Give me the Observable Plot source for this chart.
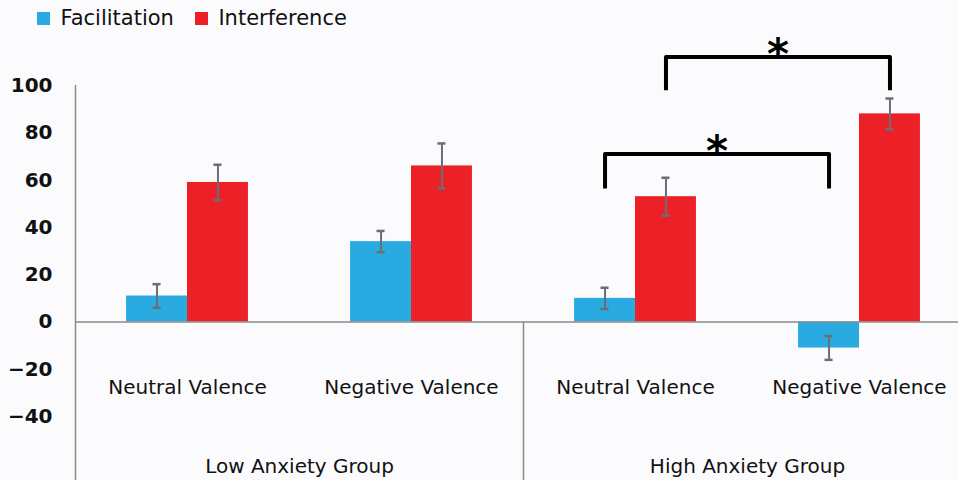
<!DOCTYPE html>
<html>
<head>
<meta charset="utf-8">
<script src="https://cdn.jsdelivr.net/npm/d3@7"></script>
<script src="https://cdn.jsdelivr.net/npm/@observablehq/plot@0.6"></script>
<style>
  html, body { margin: 0; padding: 0; background: #fbfbfd; }
  #chart { width: 958px; height: 480px; overflow: hidden; position: relative; }
  #legend { height: 36px; padding-left: 37px; box-sizing: border-box; display: flex; align-items: center; overflow: hidden; }
  #legend * { font-family: "DejaVu Sans", sans-serif !important; font-size: 21px !important; color: #111; }
  #legend > div { margin: 0 !important; min-height: 0 !important; }
  #plot svg { display: block; }
</style>
</head>
<body>
<div id="chart">
  <div id="legend"></div>
  <div id="plot"></div>
</div>
<script>
// ---- data ----
const series = ["Facilitation", "Interference"];
const seriesColors = ["#29abe2", "#ec2027"];
const groups = ["Low Anxiety Group", "High Anxiety Group"];
const valences = ["Neutral Valence", "Negative Valence"];
const facilitation = [11, 34, 10, -11];
const facilitationErr = [5, 4.5, 4.5, 5];
const interference = [59, 66, 53, 88];
const interferenceErr = [7.5, 9.5, 8, 6.5];
const yTicks = [100, 80, 60, 40, 20, 0, -20, -40];
// significance brackets: compared categories (index), series, bracket top and leg ends
const brackets = [
  {from: 2, to: 3, series: "Interference", top: 112, leg: 98, label: "*"},
  {from: 2, to: 3, series: "Facilitation", top: 71, leg: 56.5, label: "*"}
];

// ---- layout constants ----
const BAR = 0.272;        // bar width in category units
const CAP = 0.018;        // half width of error caps
const yMin = -67, yMax = 100;
const off = s => s === "Facilitation" ? -BAR / 2 : BAR / 2;

const rows = [];
for (let c = 0; c < 4; c++) {
  rows.push({c, series: "Facilitation", value: facilitation[c], err: facilitationErr[c]});
  rows.push({c, series: "Interference", value: interference[c], err: interferenceErr[c]});
}
const pos = d => d.c + off(d.series);
const categories = d3.range(4);

const bracketPts = brackets.flatMap((b, k) => {
  const x1 = b.from + off(b.series), x2 = b.to + off(b.series);
  return [
    {k, x: x1, y: b.leg}, {k, x: x1, y: b.top},
    {k, x: x2, y: b.top}, {k, x: x2, y: b.leg}
  ];
});

const axisGray = "#8a8a8a";
const errGray = "#6d6e71";

const plot = Plot.plot({
  width: 958,
  height: 444,
  marginTop: 49,
  marginBottom: 0,
  marginLeft: 75,
  marginRight: 0,
  style: {background: "transparent", fontFamily: "DejaVu Sans, sans-serif", fontSize: "20px", overflow: "visible"},
  x: {domain: [-0.5, 3.5], range: [75, 971], axis: null},
  y: {domain: [yMin, yMax]},
  color: {domain: series, range: seriesColors},
  marks: [
    Plot.ruleX([-0.5], {stroke: axisGray, strokeWidth: 1.5}),
    Plot.ruleX([1.5], {y1: 0, y2: yMin, stroke: axisGray, strokeWidth: 1.5}),
    Plot.rect(rows, {
      x1: d => d.c + (d.series === "Facilitation" ? -BAR : 0),
      x2: d => d.c + (d.series === "Facilitation" ? 0 : BAR),
      y1: 0, y2: "value", fill: "series"
    }),
    Plot.ruleY([0], {stroke: axisGray, strokeWidth: 1.5}),
    Plot.ruleX(rows, {x: pos, y1: d => d.value - d.err, y2: d => d.value + d.err, stroke: errGray, strokeWidth: 2}),
    Plot.ruleY(rows, {y: d => d.value + d.err, x1: d => pos(d) - CAP, x2: d => pos(d) + CAP, stroke: errGray, strokeWidth: 2.5}),
    Plot.ruleY(rows, {y: d => d.value - d.err, x1: d => pos(d) - CAP, x2: d => pos(d) + CAP, stroke: errGray, strokeWidth: 2.5}),
    Plot.axisY({ticks: yTicks, tickSize: 0, tickPadding: 23, fontWeight: "bold", fontSize: 20, color: "#111", label: null}),
    Plot.text(categories, {x: c => c, text: c => valences[c % 2], frameAnchor: "bottom", dy: -87, fontSize: 20, fill: "#111"}),
    Plot.text(groups, {x: (d, i) => 2 * i + 0.5, text: d => d, frameAnchor: "bottom", dy: -8, fontSize: 20, fill: "#111"}),
    Plot.line(bracketPts, {x: "x", y: "y", z: "k", stroke: "#000", strokeWidth: 4, strokeLinejoin: "round", strokeLinecap: "butt"}),
    Plot.text(brackets, {x: b => (b.from + b.to) / 2 + off(b.series), y: "top", text: "label", fontSize: 42, fontWeight: "bold", fill: "#000", dy: -2})
  ]
});
document.getElementById("plot").appendChild(plot);

const legend = Plot.legend({color: {type: "ordinal", domain: series, range: seriesColors}, swatchSize: 13});
document.getElementById("legend").appendChild(legend);
</script>
</body>
</html>
